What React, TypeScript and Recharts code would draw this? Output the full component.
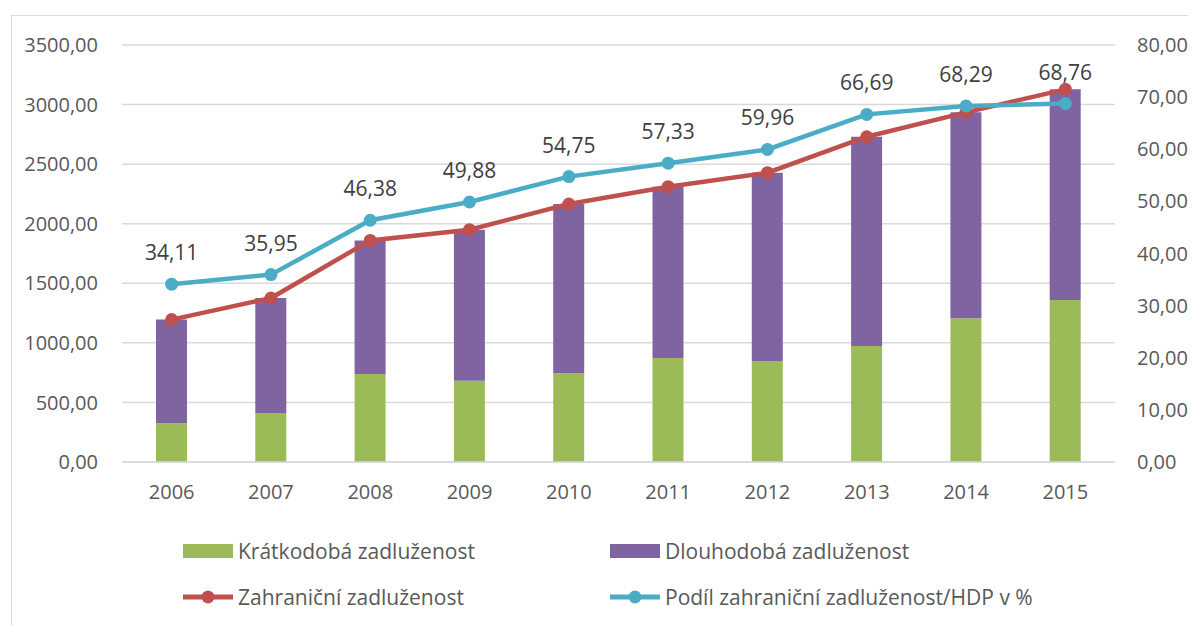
import {
  ComposedChart,
  Bar,
  Line,
  XAxis,
  YAxis,
  CartesianGrid,
  Legend,
  LabelList,
} from "recharts";

const years = ["2006", "2007", "2008", "2009", "2010", "2011", "2012", "2013", "2014", "2015"];
const shortTermDebt = [325, 411, 739, 682, 744, 873, 848, 974, 1206, 1360];
const longTermDebt = [870, 965, 1121, 1268, 1421, 1438, 1580, 1756, 1729, 1768];
const foreignDebt = [1195, 1376, 1860, 1950, 2165, 2311, 2428, 2730, 2935, 3128];
const gdpShare = [34.11, 35.95, 46.38, 49.88, 54.75, 57.33, 59.96, 66.69, 68.29, 68.76];

const leftTicks = [0, 500, 1000, 1500, 2000, 2500, 3000, 3500];
const rightTicks = [0, 10, 20, 30, 40, 50, 60, 70, 80];

const GREEN = "#9BBB59";
const PURPLE = "#8064A2";
const RED = "#C0504D";
const CYAN = "#4BACC6";

const chartData = years.map((year, i) => ({
  year,
  shortTerm: shortTermDebt[i],
  longTerm: longTermDebt[i],
  total: foreignDebt[i],
  share: gdpShare[i],
}));

const fmt = (v: number) => v.toFixed(2).replace(".", ",");

const legendItems = [
  { name: "Krátkodobá zadluženost", color: GREEN, kind: "bar" },
  { name: "Dlouhodobá zadluženost", color: PURPLE, kind: "bar" },
  { name: "Zahraniční zadluženost", color: RED, kind: "line" },
  { name: "Podíl zahraniční zadluženost/HDP v %", color: CYAN, kind: "line" },
];

const renderLegend = () => (
  <div style={{ position: "relative", width: 1196, height: 90 }}>
    {legendItems.map((item, i) => (
      <div
        key={item.name}
        style={{
          position: "absolute",
          left: i % 2 === 0 ? 183 : 610,
          top: i < 2 ? 8 : 54,
          display: "flex",
          alignItems: "center",
          height: 30,
          color: "#595959",
          fontSize: 21,
          whiteSpace: "nowrap",
        }}
      >
        <svg width={52} height={30} style={{ marginRight: 3 }}>
          {item.kind === "bar" ? (
            <rect x={0} y={8} width={50} height={14} fill={item.color} />
          ) : (
            <g>
              <line x1={0} y1={15} x2={50} y2={15} stroke={item.color} strokeWidth={5} />
              <circle cx={25} cy={15} r={6.5} fill={item.color} />
            </g>
          )}
        </svg>
        <span>{item.name}</span>
      </div>
    ))}
  </div>
);

export default function App() {
  return (
    <div
      style={{
        position: "relative",
        width: 1196,
        height: 626,
        margin: "-8px 0 0 -8px",
        overflow: "hidden",
        background: "#fff",
        fontFamily: '"Open Sans", sans-serif',
      }}
    >
      <div
        style={{
          position: "absolute",
          left: 11,
          top: 15,
          width: 1200,
          height: 700,
          border: "1.5px solid #d9d9d9",
        }}
      />
      <ComposedChart
        width={1196}
        height={626}
        data={chartData}
        margin={{ top: 45, right: 0, bottom: 134, left: 0 }}
      >
        <CartesianGrid vertical={false} stroke="#d9d9d9" strokeWidth={1.5} yAxisId="left" />
        <XAxis
          dataKey="year"
          height={30}
          axisLine={{ stroke: "#d9d9d9", strokeWidth: 1.5 }}
          tickLine={false}
          tickMargin={17}
          tick={{ fill: "#595959", fontSize: 20 }}
        />
        <YAxis
          yAxisId="left"
          width={122}
          domain={[0, 3500]}
          ticks={leftTicks}
          interval={0}
          axisLine={false}
          tickLine={false}
          tickMargin={18}
          tickFormatter={fmt}
          tick={{ fill: "#595959", fontSize: 20 }}
        />
        <YAxis
          yAxisId="right"
          orientation="right"
          width={81}
          domain={[0, 80]}
          ticks={rightTicks}
          interval={0}
          axisLine={false}
          tickLine={false}
          tickMargin={16}
          tickFormatter={fmt}
          tick={{ fill: "#595959", fontSize: 20, textAnchor: "start" }}
        />
        <Bar
          yAxisId="left"
          dataKey="shortTerm"
          stackId="debt"
          fill={GREEN}
          barSize={31}
          name="Krátkodobá zadluženost"
          isAnimationActive={false}
        />
        <Bar
          yAxisId="left"
          dataKey="longTerm"
          stackId="debt"
          fill={PURPLE}
          barSize={31}
          name="Dlouhodobá zadluženost"
          isAnimationActive={false}
        />
        <Line
          yAxisId="left"
          dataKey="total"
          stroke={RED}
          strokeWidth={4.5}
          dot={{ r: 6.5, fill: RED, stroke: RED, strokeWidth: 0 }}
          activeDot={false}
          name="Zahraniční zadluženost"
          isAnimationActive={false}
        />
        <Line
          yAxisId="right"
          dataKey="share"
          stroke={CYAN}
          strokeWidth={4.5}
          dot={{ r: 6.5, fill: CYAN, stroke: CYAN, strokeWidth: 0 }}
          activeDot={false}
          name="Podíl zahraniční zadluženost/HDP v %"
          isAnimationActive={false}
        >
          <LabelList
            dataKey="share"
            position="top"
            offset={24}
            formatter={(v: any) => fmt(Number(v))}
            fill="#404040"
            fontSize={21}
          />
        </Line>
        <Legend
          layout="horizontal"
          verticalAlign="middle"
          align="center"
          content={renderLegend}
          wrapperStyle={{ top: 528, left: 0, width: 1196 }}
        />
      </ComposedChart>
    </div>
  );
}
